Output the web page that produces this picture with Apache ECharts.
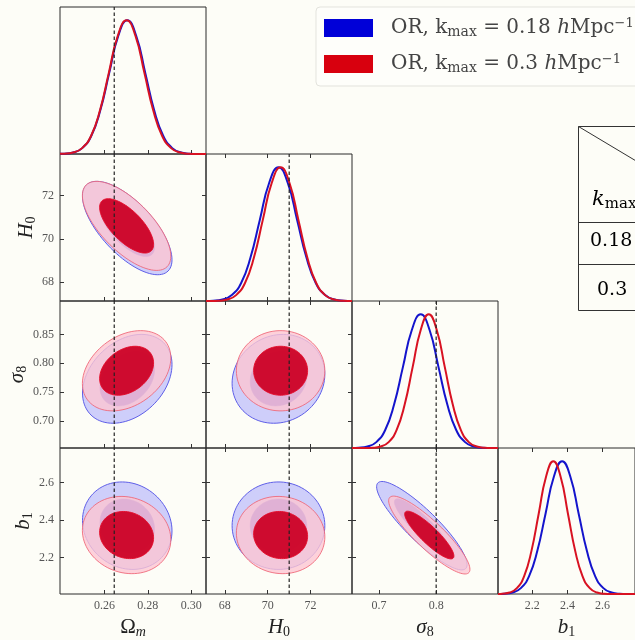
<!DOCTYPE html>
<html><head><meta charset="utf-8">
<script src="https://cdn.jsdelivr.net/npm/echarts@6/dist/echarts.min.js"></script>
<style>html,body{margin:0;padding:0;background:#fdfdf7;}#c{width:635px;height:640px;}</style>
</head><body><div id="c"></div>
<script>
// ---------------- data ----------------
const runLabels = ['0.18', '0.3'];
const fiducial = [0.2645, 71.0, 0.80, null];
const axisMin = [0.2395, 67.12, 0.653, 2.005];
const axisMax = [0.3068, 73.93, 0.908, 2.785];
const xTickValues = [[0.26, 0.28, 0.30], [68, 70, 72], [0.7, 0.8], [2.2, 2.4, 2.6]];
const xTickLabels = [['0.26', '0.28', '0.30'], ['68', '70', '72'], ['0.7', '0.8'], ['2.2', '2.4', '2.6']];
const yTickValues = [[], [68, 70, 72], [0.70, 0.75, 0.80, 0.85], [2.2, 2.4, 2.6]];
const yTickLabels = [[], ['68', '70', '72'], ['0.70', '0.75', '0.80', '0.85'], ['2.2', '2.4', '2.6']];

// 1D marginal curves [value, normalised density]
const om_018 = [[0.2395,0.001],[0.24145,0.002],[0.2456,0.011],[0.24975,0.044],[0.2539,0.135],[0.25805,0.325],[0.2622,0.607],[0.26635,0.883],[0.2705,1],[0.27465,0.883],[0.2788,0.607],[0.28295,0.325],[0.2871,0.135],[0.29125,0.044],[0.2954,0.011],[0.29955,0.002],[0.3037,0.0003],[0.3068,0]];
const om_03 = [[0.2395,0.001],[0.2415,0.002],[0.2456,0.011],[0.2497,0.044],[0.2538,0.135],[0.2579,0.325],[0.2620,0.607],[0.2661,0.883],[0.2702,1],[0.2743,0.883],[0.2784,0.607],[0.2825,0.325],[0.2866,0.135],[0.2907,0.044],[0.2948,0.011],[0.2989,0.002],[0.3030,0.0003],[0.3068,0]];
const h0_018 = [[67.12,0.0005],[67.455,0.002],[67.89,0.011],[68.325,0.044],[68.76,0.135],[69.195,0.325],[69.63,0.607],[70.065,0.883],[70.5,1],[70.935,0.883],[71.37,0.607],[71.805,0.325],[72.24,0.135],[72.675,0.044],[73.11,0.011],[73.545,0.002],[73.93,0.0003]];
const h0_03 = [[67.12,0.0001],[67.28,0.0003],[67.695,0.002],[68.11,0.011],[68.525,0.044],[68.94,0.135],[69.355,0.325],[69.77,0.607],[70.185,0.883],[70.6,1],[71.015,0.883],[71.43,0.607],[71.845,0.325],[72.26,0.135],[72.675,0.044],[73.09,0.011],[73.505,0.002],[73.93,0.0003]];
const s8_018 = [[0.653,0.0005],[0.6645,0.002],[0.680,0.011],[0.6955,0.044],[0.711,0.135],[0.7265,0.325],[0.742,0.607],[0.7575,0.883],[0.773,1],[0.7885,0.883],[0.804,0.607],[0.8195,0.325],[0.835,0.135],[0.8505,0.044],[0.866,0.011],[0.8815,0.002],[0.897,0.0003],[0.908,0]];
const s8_03 = [[0.653,0],[0.675,0.0003],[0.689,0.002],[0.703,0.011],[0.717,0.044],[0.731,0.135],[0.745,0.325],[0.759,0.607],[0.773,0.883],[0.787,1],[0.801,0.883],[0.815,0.607],[0.829,0.325],[0.843,0.135],[0.857,0.044],[0.871,0.011],[0.885,0.002],[0.899,0.0003],[0.908,0]];
const b1_018 = [[2.005,0.0003],[2.041,0.002],[2.088,0.011],[2.135,0.044],[2.182,0.135],[2.229,0.325],[2.276,0.607],[2.323,0.883],[2.37,1],[2.417,0.883],[2.464,0.607],[2.511,0.325],[2.558,0.135],[2.605,0.044],[2.652,0.011],[2.699,0.002],[2.746,0.0003],[2.785,0]];
const b1_03 = [[2.005,0.0001],[2.0295,0.002],[2.071,0.011],[2.1125,0.044],[2.154,0.135],[2.1955,0.325],[2.237,0.607],[2.2785,0.883],[2.32,1],[2.3615,0.883],[2.403,0.607],[2.4445,0.325],[2.486,0.135],[2.5275,0.044],[2.569,0.011],[2.6105,0.002],[2.652,0.0003],[2.785,0]];

// 2D contours, one row per level (95%, 68%):
// [centre x, centre y, x of right-most point, y of right-most point, y where contour crosses x = centre (upper)]
const omH0_018 = [[0.2705,70.50,0.29113,69.029,72.086],[0.2705,70.50,0.28309,69.603,71.468]];
const omH0_03  = [[0.2702,70.60,0.290585,69.197,72.113],[0.2702,70.60,0.28264,69.744,71.523]];
const omS8_018 = [[0.2705,0.773,0.29113,0.79766,0.84601],[0.2705,0.773,0.28309,0.78805,0.81755]];
const omS8_03  = [[0.2702,0.787,0.290585,0.80927,0.85295],[0.2702,0.787,0.28264,0.80059,0.82724]];
const omB1_018 = [[0.2705,2.37,0.29113,2.34196,2.6020],[0.2705,2.37,0.28309,2.35289,2.51157]];
const omB1_03  = [[0.2702,2.32,0.290585,2.29524,2.52485],[0.2702,2.32,0.28264,2.30489,2.445]];
const h0S8_018 = [[70.5,0.773,72.6628,0.78071,0.84968],[70.5,0.773,71.8198,0.77770,0.81979]];
const h0S8_03  = [[70.6,0.787,72.6634,0.787,0.8566],[70.6,0.787,71.8591,0.787,0.82948]];
const h0B1_018 = [[70.5,2.37,72.6628,2.37,2.60368],[70.5,2.37,71.8198,2.37,2.5126]];
const h0B1_03  = [[70.6,2.32,72.6634,2.30968,2.5261],[70.6,2.32,71.8591,2.3137,2.4458]];
const s8B1_018 = [[0.775,2.37,0.854,2.162,2.482],[0.775,2.37,0.823,2.243,2.438]];
const s8B1_03  = [[0.788,2.32,0.859,2.137,2.419],[0.788,2.32,0.831,2.208,2.381]];

// ---------------- layout / style ----------------
const COL_LEFT = [60, 206, 352, 498], ROW_TOP = [7, 154, 301, 448], CELL_W = 146, CELL_H = 147;
const BLUE = '#1414cc', RED = '#d81222';
const NAME_A = 'OR, kmax = ' + runLabels[0] + ' hMpc^-1';
const NAME_B = 'OR, kmax = ' + runLabels[1] + ' hMpc^-1';
const oneD = [[om_018, om_03], [h0_018, h0_03], [s8_018, s8_03], [b1_018, b1_03]];
const twoD = {'1,0': [omH0_018, omH0_03], '2,0': [omS8_018, omS8_03], '3,0': [omB1_018, omB1_03],
              '2,1': [h0S8_018, h0S8_03], '3,1': [h0B1_018, h0B1_03], '3,2': [s8B1_018, s8B1_03]};
const serif = 'Liberation Serif';
const titleRich = {
  a: {fontFamily: serif, fontStyle: 'italic', fontSize: 21, lineHeight: 24, color: '#222'},
  u: {fontFamily: serif, fontSize: 21, lineHeight: 24, color: '#222'},
  s: {fontFamily: serif, fontSize: 14, lineHeight: 14, verticalAlign: 'bottom', color: '#222'},
  si: {fontFamily: serif, fontStyle: 'italic', fontSize: 14, lineHeight: 14, verticalAlign: 'bottom', color: '#222'}
};
const titles = ['{u|Ω}{si|m}', '{a|H}{s|0}', '{a|σ}{s|8}', '{a|b}{s|1}'];
const labelStyle = {fontFamily: serif, fontSize: 12, color: '#555'};
const contourStyles = [
  {fill: 'rgb(206,206,250)', stroke: 'rgb(95,95,232)', lineWidth: 1},
  {fill: 'rgb(110,98,224)', stroke: 'rgb(110,98,224)', lineWidth: 0.5},
  {fill: 'rgba(252,198,210,0.8)', stroke: 'rgba(238,100,118,0.85)', lineWidth: 1},
  {fill: 'rgba(204,0,36,0.94)', stroke: 'rgba(228,10,40,0.9)', lineWidth: 1}
];

function fmt(vals, labs) {
  return v => { const i = vals.findIndex(t => Math.abs(t - v) < 1e-9); return i >= 0 ? labs[i] : ''; };
}
function contourRenderer(offset) {
  return function (params, api) {
    const c = api.coord([api.value(0), api.value(1)]);
    const r = api.coord([api.value(2), api.value(3)]);
    const t = api.coord([api.value(0), api.value(4)]);
    const ux = r[0] - c[0], uy = r[1] - c[1], vx = t[0] - c[0], vy = t[1] - c[1];
    const pts = [];
    for (let i = 0; i < 90; i++) {
      const a = i / 90 * Math.PI * 2, ca = Math.cos(a), sa = Math.sin(a);
      pts.push([c[0] + ux * ca + vx * sa, c[1] + uy * ca + vy * sa]);
    }
    return {type: 'polygon', shape: {points: pts}, style: contourStyles[offset + params.dataIndex]};
  };
}

const grids = [], xAxes = [], yAxes = [], series = [];
for (let r = 0; r < 4; r++) {
  for (let c = 0; c <= r; c++) {
    const g = grids.length, diag = r === c;
    grids.push({left: COL_LEFT[c], top: ROW_TOP[r], width: CELL_W, height: CELL_H, show: true,
      borderColor: '#2a2a2a', borderWidth: 1, backgroundColor: 'transparent'});
    const xi = xAxes.length;
    xAxes.push({type: 'value', gridIndex: g, position: 'bottom', min: axisMin[c], max: axisMax[c],
      axisLine: {show: false}, splitLine: {show: false},
      axisTick: {show: true, inside: true, length: 4, customValues: xTickValues[c], lineStyle: {color: '#333'}},
      axisLabel: Object.assign({show: r === 3, customValues: xTickValues[c], formatter: fmt(xTickValues[c], xTickLabels[c]), margin: 6}, labelStyle),
      name: r === 3 ? titles[c] : '', nameLocation: 'middle', nameGap: 21, nameTextStyle: {rich: titleRich}});
    if (c > 0) {
      xAxes.push({type: 'value', gridIndex: g, position: 'top', min: axisMin[c], max: axisMax[c],
        axisLine: {show: false}, splitLine: {show: false}, axisLabel: {show: false},
        axisTick: {show: true, inside: true, length: 4, customValues: xTickValues[c], lineStyle: {color: '#333'}}});
    }
    const yi = yAxes.length;
    if (diag) {
      yAxes.push({type: 'value', gridIndex: g, min: 0, max: 1.1, show: false});
    } else {
      yAxes.push({type: 'value', gridIndex: g, position: 'left', min: axisMin[r], max: axisMax[r],
        axisLine: {show: false}, splitLine: {show: false},
        axisTick: {show: true, inside: true, length: 4, customValues: yTickValues[r], lineStyle: {color: '#333'}},
        axisLabel: Object.assign({show: c === 0, customValues: yTickValues[r], formatter: fmt(yTickValues[r], yTickLabels[r]), margin: 6}, labelStyle),
        name: c === 0 ? titles[r] : '', nameLocation: 'middle', nameRotate: 90, nameGap: 22, nameTextStyle: {rich: titleRich}});
      yAxes.push({type: 'value', gridIndex: g, position: 'right', min: axisMin[r], max: axisMax[r],
        axisLine: {show: false}, splitLine: {show: false}, axisLabel: {show: false},
        axisTick: {show: true, inside: true, length: 4, customValues: yTickValues[r], lineStyle: {color: '#333'}}});
    }
    if (diag) {
      series.push({type: 'line', name: NAME_A, xAxisIndex: xi, yAxisIndex: yi, data: oneD[c][0], showSymbol: false, symbol: 'none',
        smooth: 0.5, lineStyle: {color: BLUE, width: 2}, itemStyle: {color: BLUE}, z: 3, silent: true});
      series.push({type: 'line', name: NAME_B, xAxisIndex: xi, yAxisIndex: yi, data: oneD[c][1], showSymbol: false, symbol: 'none',
        smooth: 0.5, lineStyle: {color: RED, width: 2}, itemStyle: {color: RED}, z: 4, silent: true});
    } else {
      const pair = twoD[r + ',' + c];
      series.push({type: 'custom', xAxisIndex: xi, yAxisIndex: yi, data: pair[0], renderItem: contourRenderer(0), z: 2, silent: true});
      series.push({type: 'custom', xAxisIndex: xi, yAxisIndex: yi, data: pair[1], renderItem: contourRenderer(2), z: 3, silent: true});
    }
    if (fiducial[c] !== null) {
      const y0 = diag ? 0 : axisMin[r], y1 = diag ? 1.1 : axisMax[r];
      series.push({type: 'line', xAxisIndex: xi, yAxisIndex: yi, data: [[fiducial[c], y0], [fiducial[c], y1]],
        symbol: 'none', lineStyle: {color: '#222', width: 1.2, type: [3.5, 2.5]}, z: 6, silent: true});
    }
  }
}

const lf = 'DejaVu Serif', lc = '#444';
const legendRich = {
  r: {fontFamily: lf, fontSize: 20, lineHeight: 22, color: lc},
  i: {fontFamily: lf, fontStyle: 'italic', fontSize: 20, lineHeight: 22, color: lc},
  s: {fontFamily: lf, fontSize: 14, lineHeight: 12, verticalAlign: 'bottom', color: lc},
  p: {fontFamily: lf, fontSize: 13, lineHeight: 4, verticalAlign: 'top', color: lc}
};
const legendText = {};
legendText[NAME_A] = '{r|OR, k}{s|max}{r| = ' + runLabels[0] + ' }{i|h}{r|Mpc}{p|−1}';
legendText[NAME_B] = '{r|OR, k}{s|max}{r| = ' + runLabels[1] + ' }{i|h}{r|Mpc}{p|−1}';

const tf = 'DejaVu Serif';
const tableRich = {
  k: {fontFamily: tf, fontStyle: 'italic', fontSize: 21, lineHeight: 24, color: '#222'},
  s: {fontFamily: tf, fontSize: 15, lineHeight: 14, verticalAlign: 'bottom', color: '#222'},
  n: {fontFamily: tf, fontSize: 19, lineHeight: 24, color: '#222'}
};

const option = {
  backgroundColor: '#fdfdf7',
  animation: false,
  grid: grids, xAxis: xAxes, yAxis: yAxes, series: series,
  legend: {
    orient: 'vertical', left: 316, top: 7, padding: [10, 30, 11, 8], itemGap: 14,
    itemWidth: 49, itemHeight: 18, icon: 'rect', selectedMode: false,
    backgroundColor: 'rgba(255,255,255,0.4)', borderColor: '#e3e3dd', borderWidth: 1, borderRadius: 4,
    data: [{name: NAME_A, itemStyle: {color: '#0000d8'}}, {name: NAME_B, itemStyle: {color: '#d8000e'}}],
    formatter: n => legendText[n],
    textStyle: {padding: [0, 0, 0, 13], rich: legendRich}
  },
  graphic: [
    {type: 'rect', shape: {x: 578.5, y: 126.5, width: 140, height: 184}, style: {fill: 'transparent', stroke: '#333', lineWidth: 1}, silent: true},
    {type: 'line', shape: {x1: 578.5, y1: 126.5, x2: 718, y2: 210}, style: {stroke: '#333', lineWidth: 1}, silent: true},
    {type: 'line', shape: {x1: 578.5, y1: 222.5, x2: 718, y2: 222.5}, style: {stroke: '#333', lineWidth: 1}, silent: true},
    {type: 'line', shape: {x1: 578.5, y1: 264.5, x2: 718, y2: 264.5}, style: {stroke: '#333', lineWidth: 1}, silent: true},
    {type: 'text', x: 592, y: 188, style: {text: '{k|k}{s|max}', rich: tableRich}, silent: true},
    {type: 'text', x: 590, y: 229, style: {text: '{n|' + runLabels[0] + '}', rich: tableRich}, silent: true},
    {type: 'text', x: 597, y: 278, style: {text: '{n|' + runLabels[1] + '}', rich: tableRich}, silent: true}
  ]
};
const chart = echarts.init(document.getElementById('c'), null, {renderer: 'canvas'});
chart.setOption(option);
</script></body></html>
